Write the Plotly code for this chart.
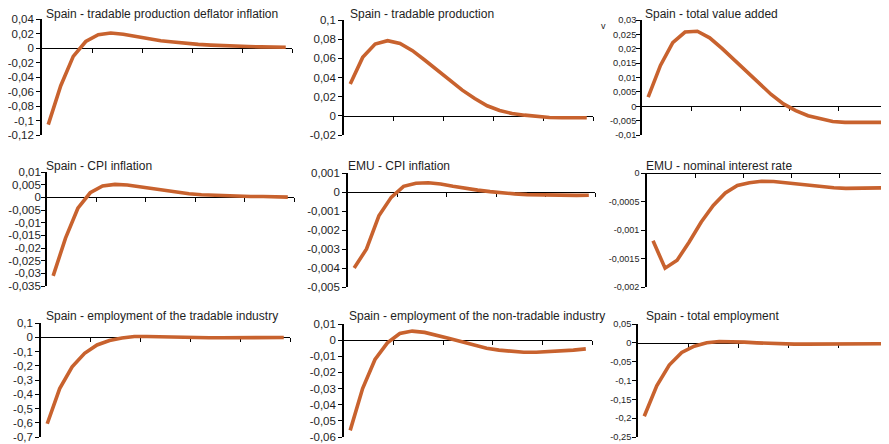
import plotly.graph_objects as go

periods = list(range(1, 21))

titles = [
    "Spain - tradable production deflator inflation",
    "Spain - tradable production",
    "Spain - total value added",
    "Spain - CPI inflation",
    "EMU - CPI inflation",
    "EMU - nominal interest rate",
    "Spain - employment of the tradable industry",
    "Spain - employment of the non-tradable industry",
    "Spain - total employment",
]

tradable_deflator = [-0.1057, -0.052, -0.0115, 0.009, 0.0184, 0.0207, 0.019, 0.016, 0.013, 0.010,
                     0.0083, 0.0064, 0.005, 0.004, 0.003, 0.0025, 0.002, 0.0015, 0.0012, 0.001]
tradable_production = [0.0331, 0.061, 0.0749, 0.0784, 0.0756, 0.068, 0.058, 0.0477, 0.0373, 0.0268,
                       0.018, 0.0105, 0.0056, 0.0024, 0.0007, -0.0007, -0.0017, -0.002, -0.0021, -0.002]
total_value_added = [0.00315, 0.0142, 0.0221, 0.0258, 0.0261, 0.0238, 0.0201, 0.016, 0.0119, 0.0078,
                     0.0041, 0.0008, -0.0015, -0.0033, -0.0044, -0.0053, -0.0056, -0.0057, -0.0057, -0.0056]
spain_cpi = [-0.031, -0.0161, -0.0043, 0.0018, 0.0045, 0.0051, 0.0049, 0.0042, 0.0034, 0.0026,
             0.002, 0.0014, 0.001, 0.0008, 0.0005, 0.0004, 0.0003, 0.0003, 0.0002, 0.0001]
emu_cpi = [-0.004, -0.003, -0.00125, -0.00028, 0.0003, 0.00046, 0.00049, 0.00042, 0.0003, 0.00019,
           0.0001, 0.00002, -0.00005, -0.0001, -0.00014, -0.00016, -0.00018, -0.00018, -0.00018, -0.00017]
emu_rate = [-0.00119, -0.00167, -0.00153, -0.00121, -0.00086, -0.00057, -0.00035, -0.00022, -0.00017, -0.000146,
            -0.00015, -0.000175, -0.0002, -0.00022, -0.00025, -0.00026, -0.00027, -0.00027, -0.00027, -0.00026]
emp_tradable = [-0.607, -0.36, -0.207, -0.113, -0.054, -0.0235, -0.005, 0.005, 0.005, 0.002,
                0.0, -0.002, -0.003, -0.004, -0.004, -0.004, -0.003, -0.003, -0.002, -0.002]
emp_nontradable = [-0.0559, -0.030, -0.012, -0.0017, 0.0041, 0.0056, 0.0048, 0.0031, 0.001, -0.001,
                   -0.0031, -0.005, -0.0062, -0.007, -0.0075, -0.0075, -0.0072, -0.0068, -0.0062, -0.0054]
emp_total = [-0.195, -0.114, -0.059, -0.0255, -0.0088, 0.0, 0.0035, 0.0035, 0.0018, 0.0,
             -0.0018, -0.0026, -0.0035, -0.0035, -0.0035, -0.0035, -0.0035, -0.0035, -0.0035, -0.0026]

series = [tradable_deflator, tradable_production, total_value_added,
          spain_cpi, emu_cpi, emu_rate,
          emp_tradable, emp_nontradable, emp_total]

ytick_vals = [
    [0.04, 0.02, 0, -0.02, -0.04, -0.06, -0.08, -0.1, -0.12],
    [0.1, 0.08, 0.06, 0.04, 0.02, 0, -0.02],
    [0.03, 0.025, 0.02, 0.015, 0.01, 0.005, 0, -0.005, -0.01],
    [0.01, 0.005, 0, -0.005, -0.01, -0.015, -0.02, -0.025, -0.03, -0.035],
    [0.001, 0, -0.001, -0.002, -0.003, -0.004, -0.005],
    [0, -0.0005, -0.001, -0.0015, -0.002],
    [0.1, 0, -0.1, -0.2, -0.3, -0.4, -0.5, -0.6, -0.7],
    [0.01, 0, -0.01, -0.02, -0.03, -0.04, -0.05, -0.06],
    [0.05, 0, -0.05, -0.1, -0.15, -0.2, -0.25],
]
ytick_text = [
    ["0,04", "0,02", "0", "-0,02", "-0,04", "-0,06", "-0,08", "-0,1", "-0,12"],
    ["0,1", "0,08", "0,06", "0,04", "0,02", "0", "-0,02"],
    ["0,03", "0,025", "0,02", "0,015", "0,01", "0,005", "0", "-0,005", "-0,01"],
    ["0,01", "0,005", "0", "-0,005", "-0,01", "-0,015", "-0,02", "-0,025", "-0,03", "-0,035"],
    ["0,001", "0", "-0,001", "-0,002", "-0,003", "-0,004", "-0,005"],
    ["0", "-0,0005", "-0,001", "-0,0015", "-0,002"],
    ["0,1", "0", "-0,1", "-0,2", "-0,3", "-0,4", "-0,5", "-0,6", "-0,7"],
    ["0,01", "0", "-0,01", "-0,02", "-0,03", "-0,04", "-0,05", "-0,06"],
    ["0,05", "0", "-0,05", "-0,1", "-0,15", "-0,2", "-0,25"],
]
xtick_vals = [4.5, 8.5, 12.5, 16.5, 20.5]

# The page body adds an 8px offset, so the figure is drawn 8px smaller
# and all target pixel positions are shifted by that offset.
OFF = 8
W, H = 889 - OFF, 444 - OFF
# layout geometry (screen pixels): x0, x1, ytop, ybottom
boxes = [
    (42, 292, 19, 135), (344, 593, 20, 135), (642, 888, 20, 135),
    (47, 294, 172, 286), (348, 595, 173, 287), (647, 888, 173, 287),
    (41, 290, 323, 437), (344, 592, 324, 437), (638, 888, 324, 437),
]
title_pos = [
    (44, 14.5), (348, 14.5), (643, 14.5),
    (44, 165.5), (346, 165.5), (644, 165.5),
    (44, 315.5), (347, 315.5), (644, 315.5),
]
tick_font_sizes = [11.5, 11.5, 9.3, 11.5, 11.5, 9, 11.5, 11.5, 9.3]
tick_standoffs = [0, 0, -2, -2, 0, 0, 0, 0, -1]


def px(x):
    return (x - OFF) / W


def py(y):
    return 1 - (y - OFF) / H


LINE = "#C8622E"
FONT = "Liberation Sans, Arial, Helvetica, sans-serif"
TXT = "#1e1e1e"

fig = go.Figure()
layout = dict(
    width=W, height=H, margin=dict(l=0, r=0, t=0, b=0, pad=0, autoexpand=False),
    paper_bgcolor="white", plot_bgcolor="white", showlegend=False,
    font=dict(family=FONT, color=TXT),
    annotations=[],
)

for k in range(9):
    n = k + 1
    xs = "" if n == 1 else str(n)
    x0, x1, yt, yb = boxes[k]
    ymin, ymax = ytick_vals[k][-1], ytick_vals[k][0]
    dom_x = [px(x0), min(px(x1), 1.0)]
    dom_y = [py(yb), py(yt)]
    zero_pos = dom_y[0] + (0 - ymin) / (ymax - ymin) * (dom_y[1] - dom_y[0])

    fig.add_trace(go.Scatter(
        x=periods, y=series[k], mode="lines",
        line=dict(color=LINE, width=3.6),
        xaxis="x" + xs, yaxis="y" + xs, hoverinfo="skip",
    ))

    layout["xaxis" + xs] = dict(
        domain=dom_x, range=[0.5, 20.5], anchor="free", position=zero_pos,
        showline=True, linecolor="black", linewidth=1,
        tickmode="array", tickvals=xtick_vals, showticklabels=False,
        ticks="outside", ticklen=4, tickwidth=1, tickcolor="black",
        showgrid=False, zeroline=False, layer="below traces", fixedrange=True,
        automargin=False,
    )
    layout["yaxis" + xs] = dict(
        domain=dom_y, range=[ymin, ymax], anchor="x" + xs,
        showline=True, linecolor="black", linewidth=1.6,
        tickmode="array", tickvals=ytick_vals[k], ticktext=ytick_text[k],
        ticks="outside", ticklen=4, tickwidth=1.2, tickcolor="black",
        ticklabelstandoff=tick_standoffs[k],
        tickfont=dict(size=tick_font_sizes[k], family=FONT, color=TXT),
        showgrid=False, zeroline=False, layer="below traces", fixedrange=True,
        automargin=False,
    )
    tx, ty = title_pos[k]
    layout["annotations"].append(dict(
        text=titles[k], xref="paper", yref="paper",
        x=px(tx), y=py(ty), xanchor="left", yanchor="middle",
        showarrow=False, font=dict(size=12, family=FONT, color=TXT),
    ))

layout["annotations"].append(dict(
    text="v", xref="paper", yref="paper", x=px(603), y=py(26),
    xanchor="center", yanchor="middle", showarrow=False,
    font=dict(size=9, family=FONT, color=TXT),
))

fig.update_layout(**layout)
fig.write_html("out.html")
